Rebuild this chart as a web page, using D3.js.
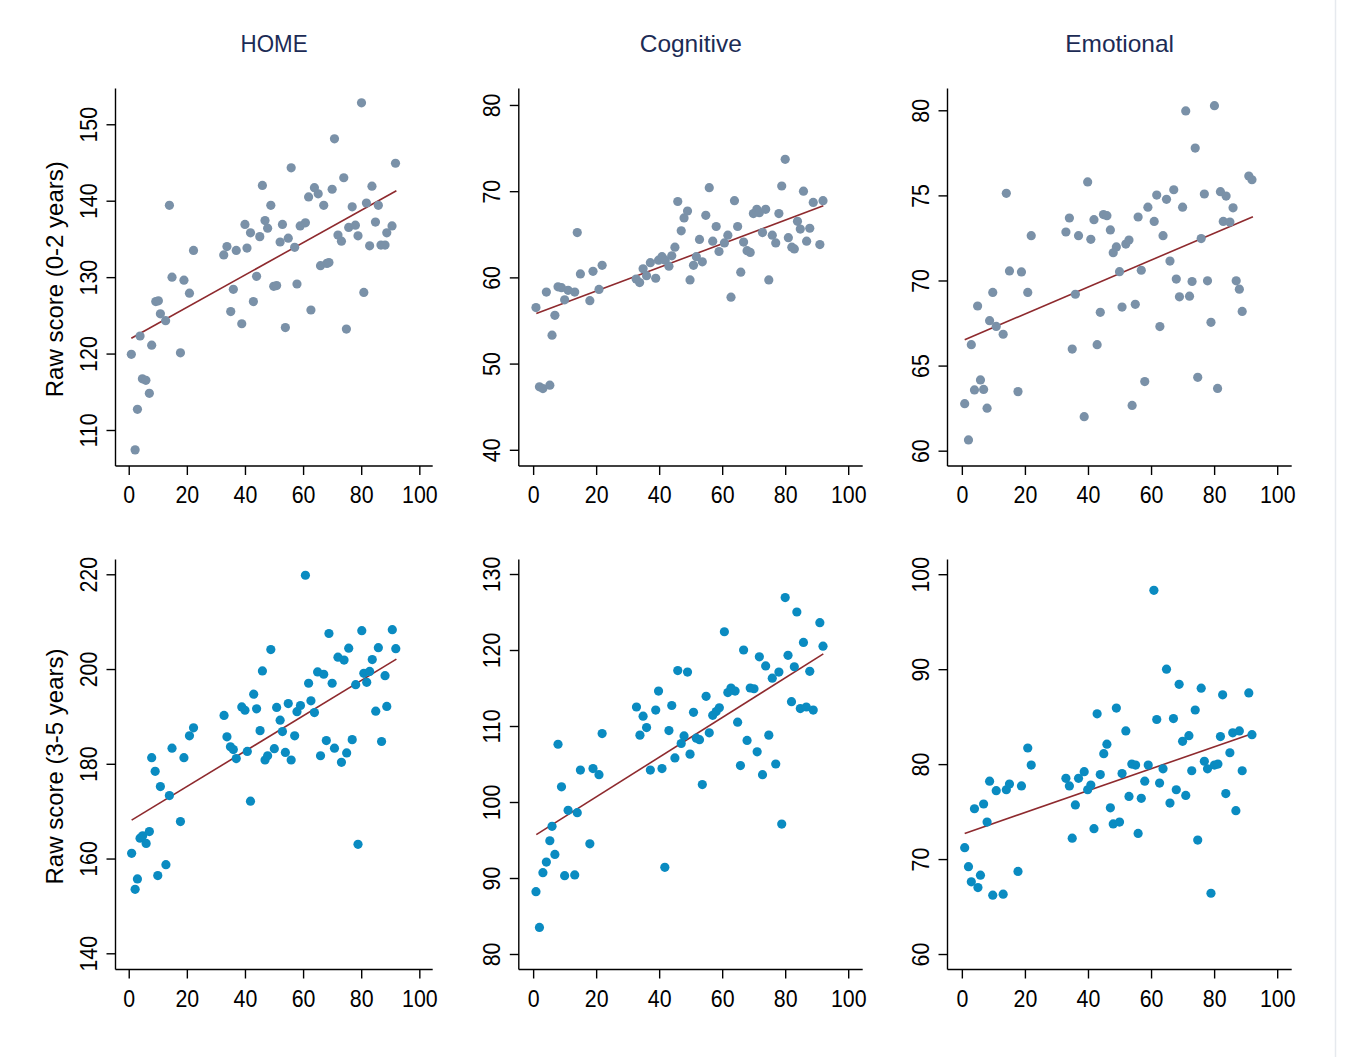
<!DOCTYPE html>
<html>
<head>
<meta charset="utf-8">
<script src="https://cdn.jsdelivr.net/npm/d3@7"></script>
<style>
  html, body { margin: 0; padding: 0; background: #ffffff; }
  svg { display: block; font-family: "Liberation Sans", Arial, Helvetica, sans-serif; }
</style>
</head>
<body>
<svg id="chart" width="1345" height="1057"></svg>
<script>
// ---------------- DATA ----------------
const columnTitles = ["HOME", "Cognitive", "Emotional"];
const rowTitles = ["Raw score (0-2 years)", "Raw score (3-5 years)"];
const xTickValues = [0, 20, 40, 60, 80, 100];

const homeTicks02 = [110, 120, 130, 140, 150];
const cogTicks02 = [40, 50, 60, 70, 80];
const emoTicks02 = [60, 65, 70, 75, 80];
const homeTicks35 = [140, 160, 180, 200, 220];
const cogTicks35 = [80, 90, 100, 110, 120, 130];
const emoTicks35 = [60, 70, 80, 90, 100];

// HOME, 0-2 years
const home02X = [0.9,3.9,2.2,3.0,4.7,5.9,7.1,7.9,9.3,10.2,10.9,12.7,14.0,14.9,17.8,19.0,20.9,22.3,32.7,33.8,35.1,36.0,37.0,38.9,40.0,40.7,41.9,42.9,44.0,45.1,46.0,46.9,47.8,48.9,49.9,50.9,52.1,52.9,53.9,54.9,55.9,57.1,57.9,59.0,60.8,61.9,62.7,63.9,65.2,66.0,67.1,68.2,68.9,70.0,70.8,72.0,73.2,74.0,74.9,75.7,76.9,78.0,78.9,80.1,80.9,81.8,82.9,83.7,84.9,85.9,86.8,88.2,88.8,90.6,91.8];
const home02Y = [119.9,122.3,107.4,112.7,116.7,116.5,114.8,121.1,126.8,126.9,125.2,124.3,139.4,130.0,120.1,129.6,127.9,133.5,132.9,134.0,125.5,128.4,133.5,123.9,136.9,133.8,135.8,126.8,130.1,135.3,142.0,137.4,136.4,139.4,128.8,128.9,134.6,136.9,123.4,135.1,144.3,133.9,129.1,136.7,137.1,140.5,125.7,141.7,140.9,131.5,139.4,131.8,131.9,141.5,148.1,135.5,134.7,143.0,123.2,136.5,139.2,136.8,135.4,152.8,128.0,139.7,134.1,141.9,137.2,139.4,134.2,134.2,135.8,136.7,144.9];
const home02FitX = [0.9, 92.1];
const home02FitY = [122.0, 141.3];

// Cognitive, 0-2 years
const cog02X = [0.9,2.0,3.1,5.3,4.2,6.0,6.9,7.9,9.0,10.0,11.1,13.2,14.0,15.0,18.0,19.0,20.9,21.9,32.7,33.8,34.9,36.0,37.2,38.9,39.8,40.9,41.9,43.1,44.0,45.0,45.9,47.0,47.9,49.0,49.8,50.9,51.8,52.8,53.7,54.8,55.9,57.0,58.1,59.0,60.7,61.8,62.8,63.9,64.9,65.9,66.8,67.9,68.9,69.9,71.0,71.8,72.8,73.8,74.8,75.9,77.0,78.0,78.9,80.0,81.0,82.1,82.9,83.9,84.8,85.8,86.8,87.8,88.9,91.0,92.0];
const cog02Y = [56.5,47.3,47.1,47.5,58.3,53.3,55.6,58.9,58.8,57.4,58.5,58.3,65.2,60.4,57.3,60.7,58.6,61.4,59.8,59.4,61.0,60.2,61.7,59.9,62.0,62.4,62.0,61.3,62.5,63.5,68.8,65.4,66.9,67.7,59.7,61.4,62.4,64.4,61.8,67.2,70.4,64.2,65.9,63.0,64.0,64.9,57.7,68.9,65.9,60.6,64.1,63.1,62.9,67.4,67.9,67.5,65.2,67.9,59.7,64.9,64.0,67.4,70.6,73.7,64.6,63.5,63.3,66.5,65.6,70.0,64.2,65.7,68.7,63.8,68.9];
const cog02FitX = [1.0, 92.1];
const cog02FitY = [55.8, 68.3];

// Emotional, 0-2 years
const emo02X = [0.9,2.1,3.0,4.0,5.0,5.9,6.9,8.0,8.8,9.8,10.9,13.1,14.1,15.1,17.8,18.9,20.9,22.0,33.0,34.1,35.0,36.0,37.0,38.8,39.9,40.9,41.9,42.9,43.9,44.9,46.0,47.1,48.0,49.0,50.0,50.8,52.0,53.0,54.0,55.0,55.9,56.9,58.0,59.0,61.0,61.8,62.8,63.8,64.9,66.0,67.2,68.0,69.0,70.0,71.0,72.2,73.0,74.0,74.8,75.9,76.9,77.9,79.0,80.1,81.1,82.0,82.9,83.8,85.0,86.0,87.0,88.0,88.9,91.0,92.0];
const emo02Y = [62.76,60.63,66.23,63.57,68.5,64.16,63.6,62.5,67.64,69.3,67.3,66.84,75.12,70.56,63.47,70.5,69.3,72.63,72.85,73.67,65.97,69.19,72.63,62.0,75.79,72.42,73.57,66.23,68.13,73.87,73.81,72.97,71.63,71.97,70.52,68.44,72.14,72.38,62.66,68.6,73.73,70.6,64.06,74.31,73.47,75.02,67.29,72.63,74.77,71.14,75.33,70.08,69.04,74.31,79.96,69.08,69.94,77.78,64.31,72.46,75.08,69.98,67.54,80.27,63.66,75.22,73.47,74.96,73.43,74.27,69.98,69.49,68.18,76.14,75.92];
const emo02FitX = [0.9, 92.3];
const emo02FitY = [66.52, 73.75];

// HOME, 3-5 years
const home35X = [1.0,2.2,3.0,3.9,4.8,6.0,7.1,7.9,9.1,10.0,10.9,12.8,14.0,14.9,17.8,19.0,20.9,22.3,32.8,33.8,35.0,36.0,37.0,38.9,40.0,40.8,41.9,43.0,44.0,45.2,46.0,46.9,47.8,48.9,50.1,50.9,52.1,52.9,53.9,54.9,55.9,57.1,57.9,59.1,60.8,61.9,62.7,63.9,65.0,66.0,67.1,68.0,68.9,70.0,70.8,72.0,73.2,74.1,75.0,75.7,76.9,78.1,78.9,80.2,80.9,81.9,82.9,83.8,85.0,85.9,87.0,88.2,88.8,90.7,91.9];
const home35Y = [161.1,153.5,155.7,164.3,164.8,163.2,165.7,181.3,178.4,156.4,175.2,158.7,173.3,183.3,167.8,181.3,185.9,187.6,190.2,185.7,183.6,183.0,181.1,192.0,191.3,182.6,172.1,194.7,191.6,187.0,199.6,180.8,181.7,204.1,183.2,191.9,189.2,186.8,182.4,192.7,180.8,185.9,191.0,192.3,219.8,197.0,193.3,190.8,199.4,181.7,198.9,184.9,207.5,197.0,183.3,202.5,180.3,201.9,182.3,204.4,185.1,196.7,163.0,208.1,199.1,197.2,199.5,202.0,191.1,204.5,184.7,198.6,192.1,208.3,204.3];
const home35FitX = [1.0, 92.1];
const home35FitY = [168.1, 202.1];

// Cognitive, 3-5 years
const cog35X = [0.9,2.0,3.1,4.2,5.3,6.0,6.9,7.9,9.0,10.0,11.1,13.2,14.0,15.0,18.0,19.0,20.9,21.9,32.8,33.9,34.9,36.0,37.2,38.9,39.8,40.9,41.8,43.1,44.0,45.0,45.9,47.0,47.9,49.0,49.8,50.9,51.8,52.8,53.7,54.9,55.9,57.0,58.1,59.1,60.7,61.8,62.8,64.1,64.9,65.8,66.8,67.9,68.9,70.1,71.1,71.8,72.8,73.8,74.8,75.9,77.0,78.0,78.9,80.0,80.9,82.0,82.9,83.7,84.8,85.8,86.7,87.8,88.9,91.0,92.0];
const cog35Y = [88.2,83.5,90.7,92.1,94.9,96.8,93.1,107.6,102.0,90.3,98.9,90.4,98.6,104.2,94.5,104.4,103.6,109.0,112.5,108.8,111.3,109.8,104.2,112.1,114.6,104.4,91.4,109.4,112.7,105.8,117.3,107.7,108.7,117.1,106.3,111.8,108.4,108.2,102.3,113.9,109.1,111.4,111.9,112.4,122.4,114.4,115.0,114.6,110.5,104.8,120.0,108.1,115.0,114.9,106.6,119.1,103.6,117.9,108.8,116.3,105.0,117.1,97.1,126.9,119.3,113.2,117.8,125.0,112.3,121.0,112.5,117.2,112.1,123.6,120.5];
const cog35FitX = [1.0, 92.1];
const cog35FitY = [95.7, 119.5];

// Emotional, 3-5 years
const emo35X = [0.9,2.1,3.0,4.0,5.1,5.9,6.9,8.0,8.8,9.8,10.9,13.1,14.1,15.1,17.8,18.9,20.9,22.0,33.0,34.1,35.0,36.0,37.0,38.8,39.9,40.9,41.9,42.9,43.9,45.0,46.0,47.1,48.0,49.0,50.0,50.8,52.0,53.0,53.9,55.1,55.9,56.9,58.0,59.1,60.9,61.8,62.7,63.8,64.9,66.0,67.1,68.0,68.9,70.0,71.0,72.0,72.9,74.0,74.8,75.9,76.9,77.9,79.0,80.1,81.2,82.0,82.7,83.7,85.0,85.9,86.9,88.0,88.9,91.0,92.0];
const emo35Y = [71.2,69.2,67.6,75.3,67.0,68.3,75.8,73.9,78.2,66.2,77.2,66.3,77.3,77.9,68.7,77.7,81.7,79.9,78.5,77.7,72.2,75.7,78.5,79.2,77.3,77.8,73.2,85.3,78.9,81.1,82.1,75.4,73.7,85.9,73.9,79.0,83.5,76.6,80.0,79.9,72.7,76.4,78.2,79.9,98.3,84.7,78.0,79.5,90.0,75.9,84.8,77.3,88.4,82.4,76.7,83.0,79.3,85.7,72.0,88.0,80.3,79.5,66.4,79.9,80.0,82.9,87.3,76.9,81.2,83.3,75.1,83.5,79.3,87.5,83.1];
const emo35FitX = [0.9, 92.0];
const emo35FitY = [72.7, 83.2];

// ---------------- LAYOUT / STYLE ----------------
const colors = { top: "#7a91a8", bottom: "#0a8bc1", fit: "#8e2a2e", title: "#1c2b55", axis: "#000000" };
const cols = [ { left: 115.5, right: 432.7 }, { left: 518.8, right: 862.7 }, { left: 947.5, right: 1291.7 } ];
const rows = [ { top: 88.5, bottom: 466 }, { top: 559.5, bottom: 969.5 } ];
const xDomain = [-4.55, 104.6];

const panels = [
  { row: 0, col: 0, x: home02X, y: home02Y, fx: home02FitX, fy: home02FitY, ticks: homeTicks02, dom: [105.29, 154.68] },
  { row: 0, col: 1, x: cog02X, y: cog02Y, fx: cog02FitX, fy: cog02FitY, ticks: cogTicks02, dom: [38.12, 81.91] },
  { row: 0, col: 2, x: emo02X, y: emo02Y, fx: emo02FitX, fy: emo02FitY, ticks: emoTicks02, dom: [59.10, 81.28] },
  { row: 1, col: 0, x: home35X, y: home35Y, fx: home35FitX, fy: home35FitY, ticks: homeTicks35, dom: [136.58, 223.12] },
  { row: 1, col: 1, x: cog35X, y: cog35Y, fx: cog35FitX, fy: cog35FitY, ticks: cogTicks35, dom: [77.96, 131.91] },
  { row: 1, col: 2, x: emo35X, y: emo35Y, fx: emo35FitX, fy: emo35FitY, ticks: emoTicks35, dom: [58.37, 101.55] }
];

const svg = d3.select("#chart");
svg.append("rect").attr("width", 1345).attr("height", 1057).attr("fill", "#ffffff");
svg.append("line").attr("x1", 1335.5).attr("x2", 1335.5).attr("y1", 0).attr("y2", 1057)
  .attr("stroke", "#e6e9ee").attr("stroke-width", 1.5);

const FONT = 24;
const squeeze = 0.89;

panels.forEach(p => {
  const c = cols[p.col], r = rows[p.row];
  const xs = d3.scaleLinear().domain(xDomain).range([c.left, c.right]);
  const ys = d3.scaleLinear().domain(p.dom).range([r.bottom, r.top]);
  const g = svg.append("g");

  // x axis
  const xAxis = d3.axisBottom(xs).tickValues(xTickValues).tickFormat(d3.format("d"))
    .tickSizeInner(9).tickSizeOuter(0).tickPadding(11);
  const gx = g.append("g").attr("transform", `translate(0,${r.bottom})`).call(xAxis);
  gx.select(".domain").attr("d", `M${c.left},0H${c.right}`);

  // y axis
  const yAxis = d3.axisLeft(ys).tickValues(p.ticks).tickFormat(d3.format("d"))
    .tickSizeInner(9).tickSizeOuter(0).tickPadding(9);
  const gy = g.append("g").attr("transform", `translate(${c.left},0)`).call(yAxis);
  gy.select(".domain").attr("d", `M0,${r.top}V${r.bottom}`);

  [gx, gy].forEach(ax => {
    ax.selectAll(".domain").attr("stroke", colors.axis).attr("stroke-width", 1.4);
    ax.selectAll(".tick line").attr("stroke", colors.axis).attr("stroke-width", 1.4);
    ax.selectAll(".tick text").attr("font-size", FONT).attr("fill", "#000")
      .attr("font-family", "Liberation Sans, Arial, sans-serif");
  });
  gx.selectAll(".tick text").attr("dy", null).attr("y", 37).attr("dominant-baseline", null);
  gy.selectAll(".tick text")
    .attr("x", null).attr("dy", null)
    .attr("text-anchor", "middle")
    .attr("transform", "translate(-18.5,0) rotate(-90)")
    .attr("y", 0);

  // fit line
  g.append("line")
    .attr("x1", xs(p.fx[0])).attr("y1", ys(p.fy[0]))
    .attr("x2", xs(p.fx[1])).attr("y2", ys(p.fy[1]))
    .attr("stroke", colors.fit).attr("stroke-width", 1.6);

  // points
  const pts = p.x.map((v, i) => [v, p.y[i]]);
  g.append("g").selectAll("circle").data(pts).join("circle")
    .attr("cx", d => xs(d[0])).attr("cy", d => ys(d[1])).attr("r", 4.6)
    .attr("fill", p.row === 0 ? colors.top : colors.bottom);
  // keep fit line above points as in reference
  g.select("line").raise();
});

// column titles
columnTitles.forEach((t, i) => {
  svg.append("text").attr("class", "title")
    .attr("x", (cols[i].left + cols[i].right) / 2).attr("y", 52)
    .attr("text-anchor", "middle").attr("font-size", FONT).attr("fill", colors.title)
    .text(t);
});

// row titles
rowTitles.forEach((t, i) => {
  const cy = (rows[i].top + rows[i].bottom) / 2 + 2;
  svg.append("text")
    .attr("transform", `translate(63,${cy}) rotate(-90)`)
    .attr("text-anchor", "middle").attr("font-size", FONT).attr("fill", "#000")
    .text(t);
});

// narrow tick labels slightly to match the reference typeface
svg.selectAll(".tick text").each(function () {
  const len = this.getComputedTextLength();
  d3.select(this).attr("textLength", len * squeeze).attr("lengthAdjust", "spacingAndGlyphs");
});
svg.selectAll("text.title").each(function () {
  const len = this.getComputedTextLength();
  const f = this.textContent === "HOME" ? 0.93 : 1.02;
  d3.select(this).attr("textLength", len * f).attr("lengthAdjust", "spacingAndGlyphs");
});
</script>
</body>
</html>
